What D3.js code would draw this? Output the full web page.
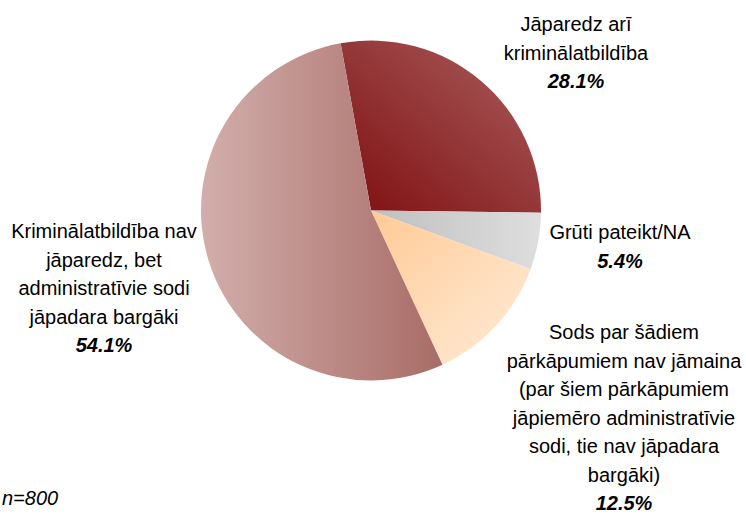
<!DOCTYPE html>
<html>
<head>
<meta charset="utf-8">
<script src="https://d3js.org/d3.v7.min.js"></script>
<style>
  body { margin: 0; background: #fff; }
  text { font-family: "Liberation Sans", Arial, sans-serif; fill: #000; }
</style>
</head>
<body>
<div id="chart"></div>
<script>
// chart data
var categories = [
  "Jāparedz arī kriminālatbildība",
  "Grūti pateikt/NA",
  "Sods par šādiem pārkāpumiem nav jāmaina",
  "Kriminālatbildība nav jāparedz, bet administratīvie sodi jāpadara bargāki"
];
var values = [28.1, 5.4, 12.5, 54.1];
var labelLines = [
  ["Jāparedz arī", "kriminālatbildība"],
  ["Grūti pateikt/NA"],
  ["Sods par šādiem", "pārkāpumiem nav jāmaina", "(par šiem pārkāpumiem", "jāpiemēro administratīvie", "sodi, tie nav jāpadara", "bargāki)"],
  ["Kriminālatbildība nav", "jāparedz, bet", "administratīvie sodi", "jāpadara bargāki"]
];
var note = "n=800";

// slice fills (gradient stops) and label placement
var gradients = [
  {x1: 0, y1: 1, x2: 1, y2: 0, from: "#7e0e10", to: "#ab5f5f"},
  {x1: 0, y1: 0, x2: 1, y2: 0, from: "#bfbfbf", to: "#dedede"},
  {x1: 0, y1: 0, x2: 1, y2: 1, from: "#ffca96", to: "#ffecd9"},
  {x1: 0, y1: 0, x2: 1, y2: 0, from: "#d2aeab", to: "#a86c66"}
];
var labelPos = [
  {x: 576, y: 31},
  {x: 620, y: 239},
  {x: 624, y: 339},
  {x: 104, y: 238}
];

var width = 746, height = 516;
var cx = 371, cy = 210.5, radius = 170;
var lineH = 28.5;

var svg = d3.select("#chart")
  .append("svg")
    .attr("width", width)
    .attr("height", height);

var defs = svg.append("defs");
gradients.forEach(function(g, i) {
  var lg = defs.append("linearGradient")
    .attr("id", "grad" + i)
    .attr("x1", g.x1).attr("y1", g.y1)
    .attr("x2", g.x2).attr("y2", g.y2);
  lg.append("stop").attr("offset", "0%").attr("stop-color", g.from);
  lg.append("stop").attr("offset", "100%").attr("stop-color", g.to);
});

var start = -10.3 * Math.PI / 180;
var pie = d3.pie()
  .sort(null)
  .value(function(d) { return d; })
  .startAngle(start)
  .endAngle(start + 2 * Math.PI);

var arc = d3.arc()
  .innerRadius(0)
  .outerRadius(radius);

var g = svg.append("g")
  .attr("transform", "translate(" + cx + "," + cy + ")");

g.selectAll("path")
  .data(pie(values))
  .enter()
  .append("path")
    .attr("d", arc)
    .style("fill", function(d, i) { return "url(#grad" + i + ")"; });

// labels
values.forEach(function(v, i) {
  var t = svg.append("text")
    .attr("text-anchor", "middle")
    .style("font-size", "20px");
  labelLines[i].forEach(function(line, j) {
    t.append("tspan")
      .attr("x", labelPos[i].x)
      .attr("y", labelPos[i].y + j * lineH)
      .text(line);
  });
  t.append("tspan")
    .attr("x", labelPos[i].x)
    .attr("y", labelPos[i].y + labelLines[i].length * lineH)
    .style("font-weight", "bold")
    .style("font-style", "italic")
    .text(d3.format(".1f")(v) + "%");
});

svg.append("text")
  .attr("x", 2)
  .attr("y", 505)
  .style("font-size", "20px")
  .style("font-style", "italic")
  .text(note);
</script>
</body>
</html>
